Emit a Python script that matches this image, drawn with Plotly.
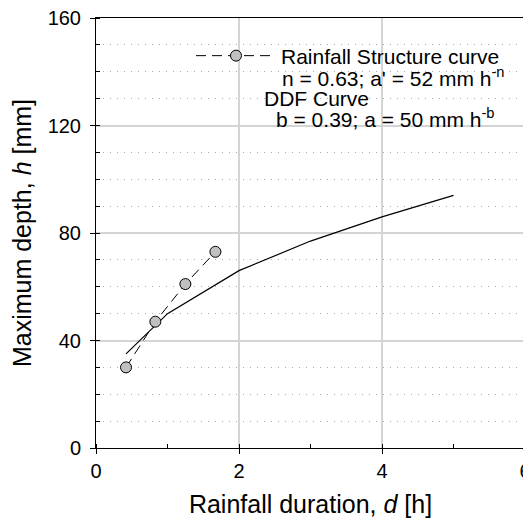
import plotly.graph_objects as go

# Rainfall structure curve (observed points)
rs_duration = [0.42, 0.83, 1.25, 1.67]
rs_depth = [30, 47, 61, 73]

# DDF curve
ddf_duration = [0.42, 1, 2, 3, 4, 5]
ddf_depth = [35, 50, 66, 77, 86, 94]

x_ticks = [0, 2, 4, 6]
y_ticks = [0, 40, 80, 120, 160]

FONT = "Liberation Sans"

fig = go.Figure()

fig.add_trace(go.Scatter(
    x=ddf_duration, y=ddf_depth, mode="lines",
    line=dict(color="black", width=1.2),
    showlegend=False, name="DDF Curve",
))

fig.add_trace(go.Scatter(
    x=rs_duration, y=rs_depth, mode="lines+markers",
    line=dict(color="black", width=1, dash="10px,6px"),
    marker=dict(size=11, color="#c0c0c0", line=dict(color="black", width=1)),
    name="Rainfall Structure curve",
))

# page body has an 8px default margin; the figure is offset by it
OFF = 8
W, H = 531, 525
L, T = 96 - OFF, 18 - OFF
pw, ph = 429, 430
R = W - L - pw
B = H - T - ph

def px_x(p):  # window pixel -> paper x
    return (p - OFF - L) / pw

def px_y(p):  # window pixel -> paper y
    return (T + ph - (p - OFF)) / ph

fig.update_layout(
    width=W, height=H,
    margin=dict(l=L, r=R, t=T, b=B, autoexpand=False),
    paper_bgcolor="white", plot_bgcolor="white",
    font=dict(family=FONT, size=20, color="black"),
    showlegend=True,
    legend=dict(
        x=px_x(191), y=px_y(56), xanchor="left", yanchor="middle",
        bgcolor="rgba(0,0,0,0)", borderwidth=0,
        font=dict(size=21), itemwidth=80,
    ),
    xaxis=dict(
        range=[0, 6], tickvals=x_ticks, ticks="outside", ticklen=5,
        tickcolor="black", showline=True, linecolor="black", linewidth=1,
        mirror=True, showgrid=True, gridcolor="#d4d4d4", gridwidth=1.5,
        zeroline=False, tickfont=dict(size=20), automargin=False,
        ticklabeloverflow="allow",
        title=dict(text="Rainfall duration, <i>d</i> [h]", font=dict(size=25), standoff=14),
        minor=dict(dtick=1, ticks="inside", ticklen=4, tickcolor="black", showgrid=False),
    ),
    yaxis=dict(
        range=[0, 160], tickvals=y_ticks, ticks="outside", ticklen=5,
        tickcolor="black", showline=True, linecolor="black", linewidth=1,
        mirror=True, showgrid=True, gridcolor="#d4d4d4", gridwidth=1.5,
        zeroline=False, tickfont=dict(size=20), automargin=False,
        ticklabelstandoff=5, ticklabeloverflow="allow",
        title=dict(text="Maximum depth, <i>h</i> [mm]", font=dict(size=25), standoff=13),
        minor=dict(dtick=10, ticks="inside", ticklen=4, tickcolor="black",
                   showgrid=True, gridcolor="#a8a8a8", griddash="1px,6px", gridwidth=1),
    ),
    annotations=[
        dict(text="n = 0.63; a' = 52 mm h<sup>-n</sup>", x=px_x(280), y=px_y(77),
             xref="paper", yref="paper", xanchor="left", yanchor="middle",
             showarrow=False, font=dict(size=21)),
        dict(text="DDF Curve", x=px_x(262), y=px_y(98),
             xref="paper", yref="paper", xanchor="left", yanchor="middle",
             showarrow=False, font=dict(size=21)),
        dict(text="b = 0.39; a = 50 mm h<sup>-b</sup>", x=px_x(274), y=px_y(118),
             xref="paper", yref="paper", xanchor="left", yanchor="middle",
             showarrow=False, font=dict(size=21)),
    ],
)

fig.write_html("out.html")
